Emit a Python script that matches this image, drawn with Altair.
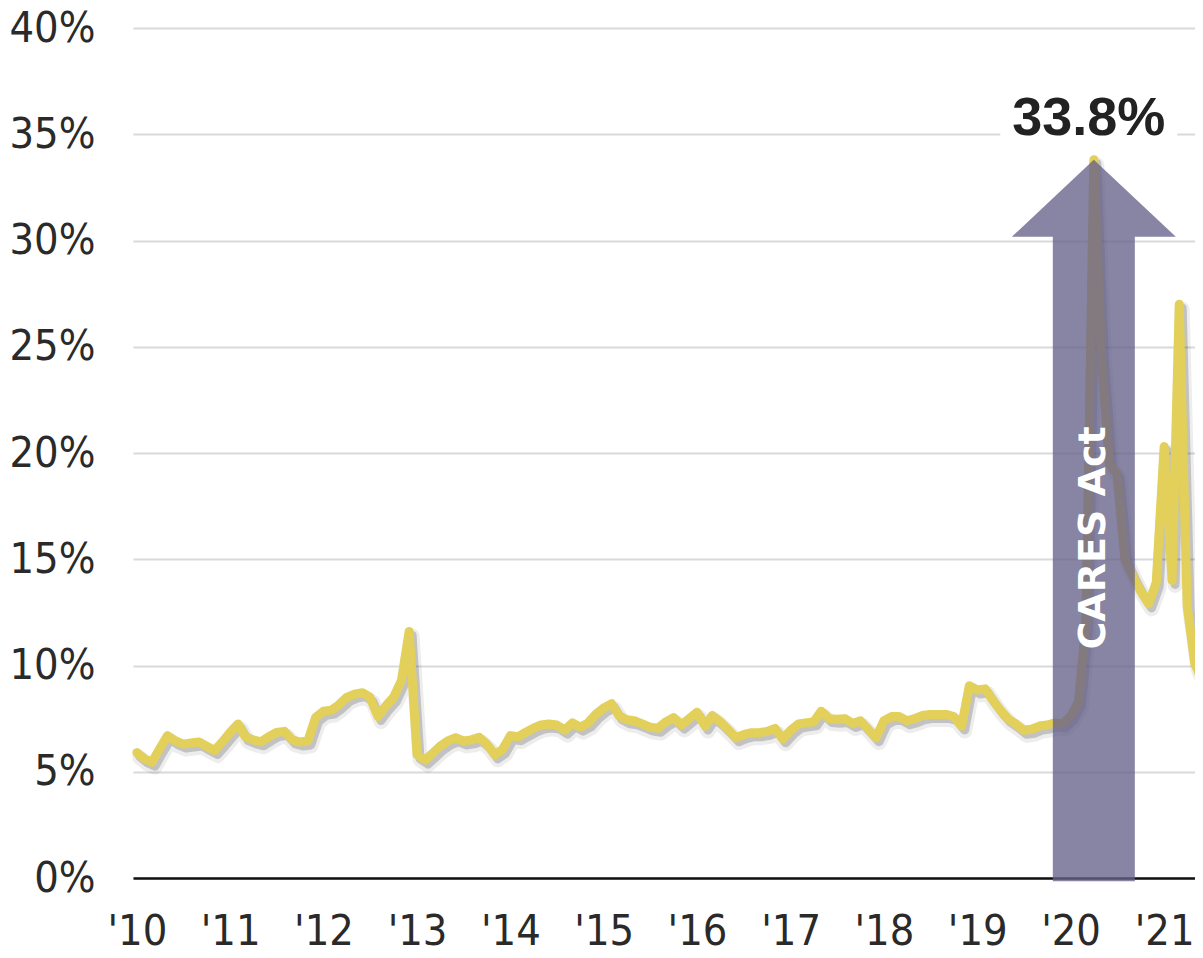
import altair as alt
import numpy as np
import pandas as pd

# Monthly personal saving rate (%), Jan 2010 .. Jun 2021
saving_rate = [
    # 2010
    5.9, 5.6, 5.45, 6.1, 6.7, 6.45, 6.3, 6.35, 6.4, 6.2, 6.0, 6.4,
    # 2011
    6.85, 7.25, 6.65, 6.5, 6.41, 6.65, 6.85, 6.9, 6.5, 6.4, 6.45, 7.55,
    # 2012
    7.85, 7.9, 8.15, 8.5, 8.65, 8.72, 8.5, 7.6, 8.1, 8.5, 9.3, 11.6,
    # 2013
    5.8, 5.55, 5.85, 6.2, 6.45, 6.6, 6.45, 6.5, 6.62, 6.3, 5.8, 6.05,
    # 2014
    6.7, 6.65, 6.85, 7.05, 7.2, 7.25, 7.2, 6.96, 7.3, 7.1, 7.3, 7.7,
    # 2015
    8.0, 8.2, 7.65, 7.45, 7.4, 7.25, 7.1, 7.05, 7.35, 7.55, 7.2, 7.5,
    # 2016
    7.8, 7.15, 7.65, 7.35, 7.0, 6.6, 6.75, 6.84, 6.84, 6.9, 7.04, 6.55,
    # 2017
    6.95, 7.25, 7.3, 7.35, 7.85, 7.5, 7.47, 7.5, 7.27, 7.4, 7.0, 6.6,
    # 2018
    7.4, 7.6, 7.6, 7.4, 7.5, 7.65, 7.7, 7.7, 7.7, 7.6, 7.15, 9.05,
    # 2019
    8.85, 8.9, 8.4, 7.9, 7.5, 7.25, 6.95, 7.0, 7.15, 7.2, 7.3, 7.25,
    # 2020
    7.6, 8.3, 12.0, 33.8, 24.5, 19.5, 19.0, 15.0, 14.2, 13.5, 12.9, 13.9,
    # 2021
    20.3, 14.0, 27.0, 12.8, 10.1, 9.2,
]
first_month = "2010-01-01"
year_ticks = list(range(2010, 2022))
y_ticks = [0, 5, 10, 15, 20, 25, 30, 35, 40]
arrow_text = ["CARES Act"]
arrow_text_level = [16.0]      # vertical position of the arrow caption (%)
peak_label_level = [35.0]      # the peak label sits on the 35% gridline

dates = pd.date_range(first_month, periods=len(saving_rate), freq="MS")
df = pd.DataFrame({"date": dates, "rate": saving_rate})

peak_i = int(np.argmax(saving_rate))
peak_df = pd.DataFrame({
    "date": [dates[peak_i]],
    "rate": [saving_rate[peak_i]],
    "label": [f"{saving_rate[peak_i]:.1f}%"],
    "level": peak_label_level,
})
caption_df = pd.DataFrame({
    "date": [dates[peak_i]],
    "level": arrow_text_level,
    "label": arrow_text,
})

LABEL_FONT = "DejaVu Sans Condensed, Liberation Sans, sans-serif"
BOLD_FONT = "Liberation Sans, Arial, sans-serif"
HEAVY_FONT = "DejaVu Sans, sans-serif"

x_scale = alt.Scale(domain=[alt.DateTime(year=2009, month=12, date=17),
                            alt.DateTime(year=2021, month=6, date=2)])
y_scale = alt.Scale(domain=[0, 40], nice=False, zero=True)

x_axis = alt.Axis(
    values=[alt.DateTime(year=y, month=1, date=1) for y in year_ticks],
    format="'%y", title=None, grid=False, ticks=False,
    domain=True, domainColor="#111111", domainWidth=2.5,
    labelFont=LABEL_FONT, labelFontSize=43, labelColor="#2a2a2a",
    labelPadding=32, labelBaseline="top", labelFlush=False, labelOverlap=False,
)
y_axis = alt.Axis(
    values=y_ticks, labelExpr="datum.value + '%'", title=None,
    grid=True, gridColor="#d9d9d9", gridWidth=2, ticks=False, domain=False,
    labelFont=LABEL_FONT, labelFontSize=43, labelColor="#2a2a2a",
    labelPadding=38, labelBaseline="middle",
)

def X():
    return alt.X("date:T", scale=x_scale, axis=x_axis)

base = alt.Chart(df)

# white box that interrupts the 35% gridline behind the peak label
BOX = "M-1,-0.16 L1,-0.16 L1,0.16 L-1,0.16 Z"
box = alt.Chart(peak_df).mark_point(
    shape=BOX, size=177 * 177, filled=True, color="white", opacity=1, xOffset=-5
).encode(x=X(), y=alt.Y("level:Q", scale=y_scale, axis=y_axis))

shadow2 = base.mark_line(
    color="#000000", opacity=0.07, strokeWidth=15, xOffset=3, yOffset=5,
    strokeJoin="round", strokeCap="round"
).encode(x=X(), y=alt.Y("rate:Q", scale=y_scale, axis=y_axis))

shadow = base.mark_line(
    color="#000000", opacity=0.18, strokeWidth=9, xOffset=3, yOffset=4,
    strokeJoin="round", strokeCap="round"
).encode(x=X(), y=alt.Y("rate:Q", scale=y_scale, axis=y_axis))

line = base.mark_line(
    color="#E2D05A", strokeWidth=9, strokeJoin="round", strokeCap="round"
).encode(x=X(), y=alt.Y("rate:Q", scale=y_scale, axis=y_axis))

# arrow: tip at the peak, head 164px wide, shaft 82px wide down to the axis
ARROW = "M0,0 L1,0.94 L0.5,0.94 L0.5,8.8 L-0.5,8.8 L-0.5,0.94 L-1,0.94 Z"
arrow = alt.Chart(peak_df).mark_point(
    shape=ARROW, size=164 * 164, filled=True, color="#676189", opacity=0.78
).encode(x=X(), y=alt.Y("rate:Q", scale=y_scale, axis=y_axis))

peak_text = alt.Chart(peak_df).mark_text(
    font=BOLD_FONT, fontWeight="bold", fontSize=54, color="#222222",
    align="center", baseline="alphabetic", dx=-5, dy=1
).encode(x=X(), y=alt.Y("level:Q", scale=y_scale, axis=y_axis), text="label:N")

caption = alt.Chart(caption_df).mark_text(
    font=HEAVY_FONT, fontWeight="bold", fontSize=38, color="white",
    align="center", baseline="middle", angle=270
).encode(x=X(), y=alt.Y("level:Q", scale=y_scale, axis=y_axis), text="label:N")

chart = alt.layer(box, shadow2, shadow, line, arrow, peak_text, caption).properties(
    width=1070, height=850,
    background="white",
    autosize=alt.AutoSizeParams(type="none"),
    padding={"left": 125, "top": 20, "right": -8, "bottom": 70},
).configure_view(
    stroke="transparent", strokeWidth=0
).configure_axisX(grid=False).configure_axisY(domain=False)

chart.save("out.html", embed_options={"renderer": "svg", "actions": False})
